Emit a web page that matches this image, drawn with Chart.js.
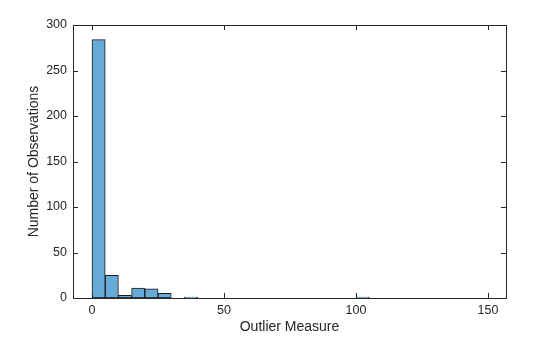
<!DOCTYPE html>
<html>
<head>
<meta charset="utf-8">
<script src="https://cdn.jsdelivr.net/npm/chart.js@4.4.1/dist/chart.umd.min.js"></script>
<style>
  html, body { margin: 0; padding: 0; background: #fff; }
  #wrap { width: 560px; height: 337px; }
</style>
</head>
<body>
<div id="wrap"><canvas id="c"></canvas></div>
<script>
// histogram bins (left edge of each bin, width 5) and counts
const binStarts = [0, 5, 10, 15, 20, 25, 30, 35, 40, 45, 50, 55, 60, 65, 70, 75, 80, 85, 90, 95, 100];
const counts    = [284, 25, 3, 11, 10, 5, 0, 1, 0, 0, 0, 0, 0, 0, 0, 0, 0, 0, 0, 0, 1];
const binWidth = 5;

const xTicks = [0, 50, 100, 150];
const yTicks = [0, 50, 100, 150, 200, 250, 300];

const FONT = "'Liberation Sans', Arial, Helvetica, sans-serif";

// box round the plot + ticks pointing inward (matlab look)
const boxPlugin = {
  id: "box",
  afterDraw(chart) {
    const { ctx, chartArea: a, scales } = chart;
    const len = 5;
    ctx.save();
    ctx.strokeStyle = "#262626";
    ctx.lineWidth = 1;
    ctx.beginPath();
    xTicks.forEach((v) => {
      const px = Math.round(scales.x.getPixelForValue(v)) + 0.5;
      ctx.moveTo(px, a.bottom); ctx.lineTo(px, a.bottom - len);
      ctx.moveTo(px, a.top); ctx.lineTo(px, a.top + len);
    });
    yTicks.forEach((v) => {
      const py = Math.round(scales.y.getPixelForValue(v)) + 0.5;
      ctx.moveTo(a.left, py); ctx.lineTo(a.left + len, py);
      ctx.moveTo(a.right, py); ctx.lineTo(a.right - len, py);
    });
    ctx.stroke();
    ctx.strokeRect(Math.round(a.left) + 0.5, Math.round(a.top) + 0.5,
                   Math.round(a.right - a.left), Math.round(a.bottom - a.top));
    ctx.restore();
  }
};

new Chart(document.getElementById("c"), {
  type: "bar",
  data: {
    datasets: [{
      data: binStarts.map((s, i) => ({ x: s + binWidth / 2, y: counts[i] })),
      backgroundColor: "rgb(102,170,215)",
      borderColor: "#1a1a1a",
      borderWidth: 1,
      borderSkipped: false,
      barPercentage: 1,
      categoryPercentage: 1
    }]
  },
  options: {
    responsive: true,
    maintainAspectRatio: false,
    animation: false,
    layout: { padding: { top: 25, right: 54, left: 0, bottom: 0 } },
    plugins: { legend: { display: false }, tooltip: { enabled: false } },
    scales: {
      x: {
        type: "linear",
        offset: false,
        min: -7.2,
        max: 156.8,
        afterBuildTicks: (s) => { s.ticks = xTicks.map((v) => ({ value: v })); },
        afterFit: (s) => { s.height = 39; },
        grid: { display: false, offset: false, drawTicks: false },
        border: { display: false },
        ticks: { color: "#262626", font: { family: FONT, size: 12.5 }, padding: 5, maxRotation: 0 },
        title: { display: true, text: "Outlier Measure", color: "#262626", font: { family: FONT, size: 14 }, padding: { top: 0, bottom: 1 } }
      },
      y: {
        min: 0,
        max: 300,
        afterBuildTicks: (s) => { s.ticks = yTicks.map((v) => ({ value: v })); },
        afterFit: (s) => { s.width = 73; },
        grid: { display: false, drawTicks: false },
        border: { display: false },
        ticks: { color: "#262626", font: { family: FONT, size: 12.5 }, padding: 6 },
        title: { display: true, text: "Number of Observations", color: "#262626", font: { family: FONT, size: 14 }, padding: { top: 26, bottom: 0 } }
      }
    }
  },
  plugins: [boxPlugin]
});
</script>
</body>
</html>
